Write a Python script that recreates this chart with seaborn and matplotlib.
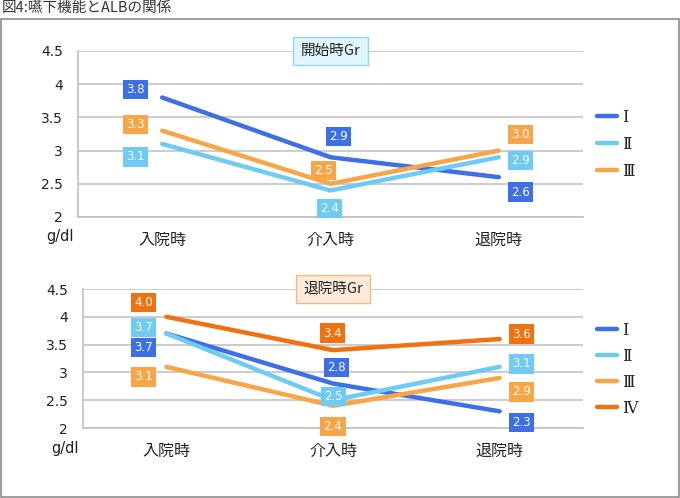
import pandas as pd
import matplotlib.pyplot as plt
from matplotlib.patches import Rectangle
import seaborn as sns

# data
times = ['入院時', '介入時', '退院時']
groups = ['Ⅰ', 'Ⅱ', 'Ⅲ', 'Ⅳ']
yTicks = [2, 2.5, 3, 3.5, 4, 4.5]
yTickLabels = ['2', '2.5', '3', '3.5', '4', '4.5']

startI = [3.8, 2.9, 2.6]
startII = [3.1, 2.4, 2.9]
startIII = [3.3, 2.5, 3.0]

endI = [3.7, 2.8, 2.3]
endII = [3.7, 2.5, 3.1]
endIII = [3.1, 2.4, 2.9]
endIV = [4.0, 3.4, 3.6]

colors = {'Ⅰ': '#3d6fe6', 'Ⅱ': '#6fcbf3', 'Ⅲ': '#f8a548', 'Ⅳ': '#f2710f'}

# where each value label box sits, pixel offset (dx, dy) from its point
startOffsets = {
    'Ⅰ': [(-27, 8), (8, 21), (22, -15)],
    'Ⅱ': [(-27, -13), (-1, -18), (22, -3)],
    'Ⅲ': [(-27, 6), (-7, 13), (22, 16)],
}
endOffsets = {
    'Ⅰ': [(-23, -14), (3, 16), (22, -11)],
    'Ⅱ': [(-23, 6), (0, 4), (22, 3)],
    'Ⅲ': [(-23, -10), (0, -21), (22, -14)],
    'Ⅳ': [(-23, 14), (-1, 17), (22, 5)],
}

W, H = 680, 498
jpFont = ['Noto Sans CJK JP', 'DejaVu Sans']

sns.set_theme(style='white')
plt.rcParams['font.family'] = jpFont
plt.rcParams['axes.unicode_minus'] = False


def toFrame(series):
    rows = []
    for g, vals in series.items():
        for i, v in enumerate(vals):
            rows.append({'x': i, 'time': times[i], 'value': v, 'group': g})
    return pd.DataFrame(rows)


def pxBox(left, top, right, bottom):
    return [left / W, 1 - bottom / H, (right - left) / W, (bottom - top) / H]


def drawPanel(ax, series, offsets, title, titleFc, titleEc, legendXY, legendSpacing):
    df = toFrame(series)
    sns.lineplot(data=df, x='x', y='value', hue='group', palette=colors,
                 linewidth=3.2, sort=False, ax=ax, solid_capstyle='round')

    ax.set_xlim(-0.5, 2.5)
    ax.set_ylim(2, 4.5)
    ax.set_xlabel('')
    ax.set_ylabel('')

    ax.set_yticks(yTicks, labels=yTickLabels)
    ax.set_xticks(range(len(times)), labels=times)
    ax.set_xticks([-0.5, 0.5, 1.5, 2.5], minor=True)
    ax.tick_params(axis='x', which='major', length=0, pad=11, labelsize=11.5, colors='#222222')
    ax.tick_params(axis='x', which='minor', length=5, width=1, color='#b0b0b0', direction='out')
    ax.tick_params(axis='y', length=5, width=1, pad=6, labelsize=10,
                   colors='#c0c0c0', labelcolor='#222222')
    for lbl in ax.get_yticklabels():
        lbl.set_family('DejaVu Sans')

    ax.grid(axis='y', color='#c4c4c4', linewidth=1.2)
    ax.set_axisbelow(True)
    for side in ['top', 'right']:
        ax.spines[side].set_visible(False)
    for side in ['left', 'bottom']:
        ax.spines[side].set_color('#c0c0c0')
        ax.spines[side].set_linewidth(1.2)

    # value label boxes
    for g, vals in series.items():
        for i, v in enumerate(vals):
            dx, dy = offsets[g][i]
            ax.annotate(f'{v:.1f}', xy=(i, v), xytext=(dx, dy), textcoords='offset pixels',
                        ha='center', va='center', color='white', fontsize=8.5,
                        family='DejaVu Sans', annotation_clip=False, zorder=5,
                        bbox=dict(boxstyle='square,pad=0.27', fc=colors[g], ec='none'))

    # group title box sitting on the top gridline
    ax.text(1, 4.5, title, ha='center', va='center', fontsize=10.5, color='#222222', zorder=6,
            bbox=dict(boxstyle='square,pad=0.5', fc=titleFc, ec=titleEc, lw=1))

    ax.annotate('g/dl', xy=(0, 0), xycoords='axes fraction', xytext=(-18, -20),
                textcoords='offset pixels', ha='center', va='center', fontsize=10.5,
                family='DejaVu Sans', color='#222222', annotation_clip=False)

    handles, labels = ax.get_legend_handles_labels()
    for h in handles:
        h.set_linewidth(3.2)
        h.set_solid_capstyle('round')
    ax.legend(handles, labels, loc='upper left',
              bbox_to_anchor=(legendXY[0] / W, 1 - legendXY[1] / H),
              bbox_transform=ax.figure.transFigure, frameon=False,
              handlelength=1.25, handletextpad=0.3, labelspacing=legendSpacing,
              borderpad=0, borderaxespad=0,
              prop={'family': ['DejaVu Serif', 'Noto Sans CJK JP'], 'size': 11.5})


fig = plt.figure(figsize=(W / 100, H / 100), dpi=100)

axTop = fig.add_axes(pxBox(78, 51, 583, 217))
drawPanel(axTop, {'Ⅰ': startI, 'Ⅱ': startII, 'Ⅲ': startIII}, startOffsets,
          '開始時Gr', '#e0f6fc', '#93d5ea', (597, 109), 0.62)

axBottom = fig.add_axes(pxBox(83, 289, 583, 428))
drawPanel(axBottom, {'Ⅰ': endI, 'Ⅱ': endII, 'Ⅲ': endIII, 'Ⅳ': endIV}, endOffsets,
          '退院時Gr', '#fdeada', '#f0bb85', (597, 322), 0.56)

fig.text(2 / W, 1 - 8 / H, '図4:嚥下機能とALBの関係', ha='left', va='center',
         fontsize=10.5, color='#333333')
fig.add_artist(Rectangle((1 / W, 1 / H), 678 / W, (497 - 19) / H, transform=fig.transFigure,
                         fill=False, ec='#8c8c8c', lw=1.2))

fig.savefig('out.png', dpi=100)
